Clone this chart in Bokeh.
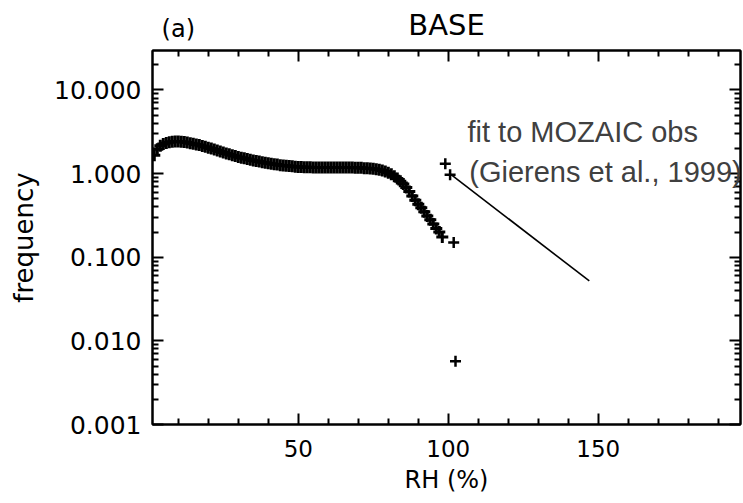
from bokeh.plotting import figure
from bokeh.models import Range1d, FixedTicker, LinearAxis, LogAxis, Label
from bokeh.embed import file_html
from bokeh.resources import INLINE

# ---- data ----
rh_model = list(range(2, 99))
freq_model = [
    1.65, 1.95, 2.15, 2.25, 2.32, 2.37, 2.40, 2.41, 2.41, 2.40,   # 2-11
    2.38, 2.35, 2.31, 2.27, 2.23, 2.19, 2.14, 2.09, 2.04, 1.99,   # 12-21
    1.94, 1.89, 1.84, 1.79, 1.74, 1.70, 1.66, 1.62, 1.58, 1.55,   # 22-31
    1.52, 1.49, 1.46, 1.43, 1.41, 1.39, 1.37, 1.35, 1.33, 1.31,   # 32-41
    1.29, 1.28, 1.26, 1.25, 1.24, 1.23, 1.22, 1.21, 1.20, 1.20,   # 42-51
    1.19, 1.19, 1.19, 1.18, 1.18, 1.18, 1.18, 1.18, 1.18, 1.18,   # 52-61
    1.18, 1.18, 1.18, 1.18, 1.18, 1.18, 1.18, 1.17, 1.17, 1.17,   # 62-71
    1.16, 1.16, 1.15, 1.14, 1.13, 1.11, 1.09, 1.06, 1.02, 0.98,   # 72-81
    0.93, 0.87, 0.81, 0.75, 0.68, 0.61, 0.54, 0.48, 0.43, 0.39,   # 82-91
    0.35, 0.31, 0.28, 0.25, 0.22, 0.20, 0.175,                    # 92-98
]
rh_extra = [99.0, 100.6, 101.8, 102.4]
freq_extra = [1.31, 0.97, 0.15, 0.0057]

fit_rh = [100.5, 147.0]
fit_freq = [1.0, 0.052]

x_major = [50, 100, 150]
x_minor = [10, 20, 30, 40, 60, 70, 80, 90, 110, 120, 130, 140, 160, 170, 180, 190]
y_major = [0.001, 0.01, 0.1, 1.0, 10.0]
y_major_labels = ["0.001", "0.010", "0.100", "1.000", "10.000"]
y_minor = [m * d for d in [0.001, 0.01, 0.1, 1.0, 10.0] for m in range(2, 10)]

title_text = "BASE"
panel_text = "(a)"
panel_text_x = 10
note_line1 = "fit to MOZAIC obs"
note_line2 = "(Gierens et al., 1999)"

FONT = "DejaVu Sans"

p = figure(width=743, height=503, output_backend="svg", toolbar_location=None,
           x_axis_type="linear", y_axis_type="log",
           x_range=Range1d(1.4, 197.4), y_range=Range1d(0.001, 29.6),
           min_border_left=152, min_border_right=3, min_border_top=50, min_border_bottom=79)
p.background_fill_color = "white"
p.border_fill_color = "white"
p.outline_line_color = "black"
p.outline_line_width = 2
p.xgrid.visible = False
p.ygrid.visible = False

xt = FixedTicker(ticks=x_major, minor_ticks=x_minor)
yt = FixedTicker(ticks=y_major, minor_ticks=y_minor)

def style_axis(ax, labels=True):
    ax.axis_line_width = 2
    ax.major_tick_line_width = 2
    ax.minor_tick_line_width = 2
    ax.major_tick_in = 11
    ax.major_tick_out = 0
    ax.minor_tick_in = 6
    ax.minor_tick_out = 0
    ax.major_label_text_font = FONT
    ax.major_label_text_color = "black"
    ax.axis_label_text_font = FONT
    ax.axis_label_text_font_style = "normal"
    ax.axis_label_text_color = "black"
    if not labels:
        ax.major_label_text_font_size = "1px"
        ax.major_label_text_color = None
        ax.major_label_standoff = 0

xa = p.xaxis[0]
xa.ticker = xt
style_axis(xa)
xa.major_label_text_font_size = "23px"
xa.major_label_standoff = 15
xa.axis_label = "RH (%)"
xa.axis_label_text_font_size = "24px"
xa.axis_label_standoff = 6

ya = p.yaxis[0]
ya.ticker = yt
style_axis(ya)
ya.major_label_text_font_size = "25px"
ya.major_label_standoff = 11
ya.major_label_overrides = {v: s for v, s in zip(y_major, y_major_labels)}
ya.axis_label = "frequency"
ya.axis_label_text_font_size = "26px"
ya.axis_label_standoff = 12

# mirrored tick marks on top
top_ax = LinearAxis(ticker=xt)
style_axis(top_ax, labels=False)
p.add_layout(top_ax, "above")

# header row: "(a)" on the left and "BASE" centred above the frame
head_ax = LinearAxis(ticker=FixedTicker(ticks=[panel_text_x], minor_ticks=[]))
head_ax.axis_line_color = None
head_ax.major_tick_line_color = None
head_ax.minor_tick_line_color = None
head_ax.major_tick_in = 0
head_ax.major_tick_out = 0
head_ax.minor_tick_in = 0
head_ax.minor_tick_out = 0
head_ax.major_label_overrides = {panel_text_x: panel_text}
head_ax.major_label_text_font = FONT
head_ax.major_label_text_font_size = "24px"
head_ax.major_label_text_color = "black"
head_ax.major_label_standoff = 8
head_ax.axis_label = title_text
head_ax.axis_label_text_font = FONT
head_ax.axis_label_text_font_size = "29px"
head_ax.axis_label_text_font_style = "normal"
head_ax.axis_label_text_color = "black"
head_ax.axis_label_standoff = -30
p.add_layout(head_ax, "above")

right_ax = LogAxis(ticker=yt)
style_axis(right_ax, labels=False)
p.add_layout(right_ax, "right")

# model points
p.scatter(rh_model, freq_model, marker="cross", size=12, line_width=3,
          line_color="black")
p.scatter(rh_extra, freq_extra, marker="cross", size=11, line_width=2.5,
          line_color="black")

# fit line
p.line(fit_rh, fit_freq, line_color="black", line_width=1.6)

# texts
p.add_layout(Label(x=106.4, y=3.1, text=note_line1, text_font="Liberation Sans",
                   text_font_size="29px", text_align="left",
                   text_baseline="alphabetic", text_color="#404040"))
p.add_layout(Label(x=107.0, y=1.03, text=note_line2, text_font="Liberation Sans",
                   text_font_size="29px", text_align="left",
                   text_baseline="alphabetic", text_color="#404040"))

open("out.html", "w").write(file_html(p, INLINE))
